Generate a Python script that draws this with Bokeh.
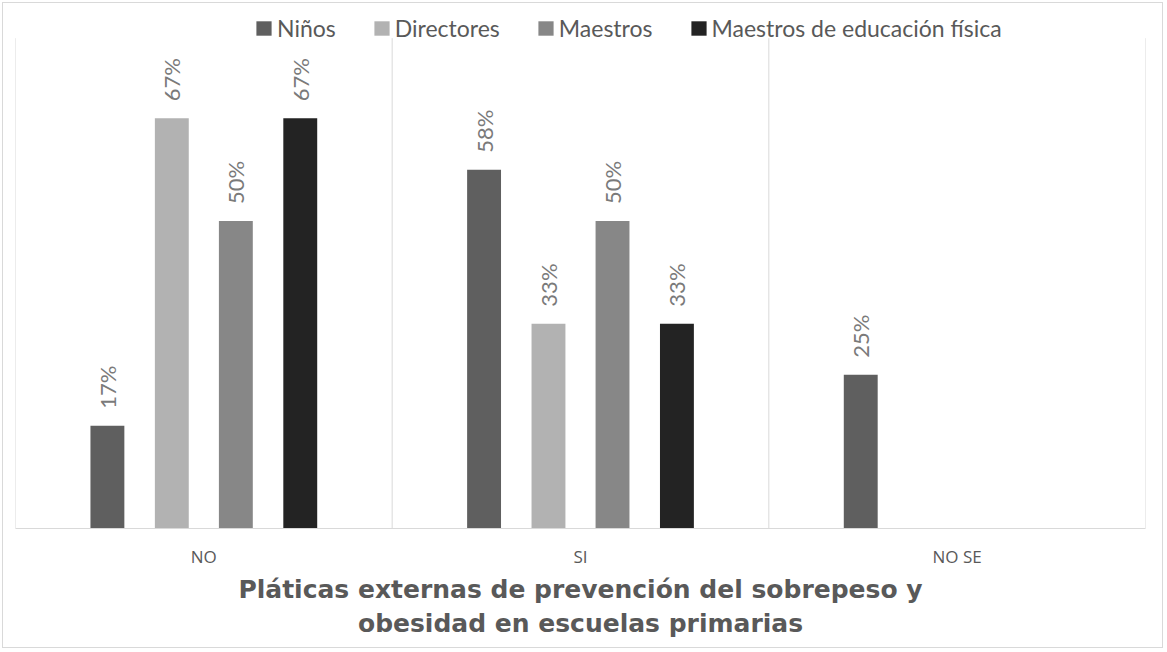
from bokeh.plotting import figure
from bokeh.models import (ColumnDataSource, FactorRange, Legend, LegendItem, Range1d)
from bokeh.transform import dodge
from bokeh.embed import file_html
from bokeh.resources import INLINE
import math

categories = ["NO", "SI", "NO SE"]
series_names = ["Niños", "Directores", "Maestros", "Maestros de educación física"]
ninos = [0.167, 0.583, 0.25]
directores = [0.667, 0.333, 0.0]
maestros = [0.5, 0.5, 0.0]
maestros_ef = [0.667, 0.333, 0.0]
axis_title = "Pláticas externas de prevención del sobrepeso y\nobesidad en escuelas primarias"

series_values = [ninos, directores, maestros, maestros_ef]
colors = ["#5f5f5f", "#b2b2b2", "#878787", "#232323"]
offsets = [-0.256, -0.085, 0.085, 0.256]
y_top = 0.797      # top of the plot area (value axis max)
y_view = 0.842     # extra room above for the legend

p = figure(width=1161, height=646, x_range=FactorRange(*categories, range_padding=0),
           y_range=Range1d(0, y_view), output_backend="svg", toolbar_location=None,
           min_border_left=12, min_border_top=7, min_border_right=19, min_border_bottom=121,
           margin=(2, 0, 0, 2), styles={"border": "1px solid #d9d9d9"})
p.outline_line_color = None
p.xgrid.visible = False
p.ygrid.visible = False
p.yaxis.visible = False

# category separators (left edge, between categories, right edge)
sep_x = [0, 1, 2, 3]
p.segment(x0=sep_x, x1=sep_x, y0=[0] * 4, y1=[y_top] * 4, line_color="#d9d9d9", line_width=1)

items = []
for name, vals, col, off in zip(series_names, series_values, colors, offsets):
    src = ColumnDataSource(dict(cat=categories, val=vals))
    r = p.vbar(x=dodge("cat", off, range=p.x_range), top="val", width=0.09, bottom=0,
               source=src, fill_color=col, line_color=None)
    items.append(LegendItem(label=name, renderers=[r]))
    lab_cats = [c for c, v in zip(categories, vals) if v > 0]
    lab_vals = [v for v in vals if v > 0]
    lab_txt = ["%d%%" % round(v * 100) for v in lab_vals]
    lsrc = ColumnDataSource(dict(cat=lab_cats, val=lab_vals, txt=lab_txt))
    p.text(x=dodge("cat", off, range=p.x_range), y="val", text="txt", source=lsrc,
           angle=math.pi / 2, text_align="left", text_baseline="middle", y_offset=-17,
           text_font={"value": "Lato"}, text_font_size="22px", text_color="#7a7a7a")

legend = Legend(items=items, orientation="horizontal", location=(239, 486),
                glyph_width=19, glyph_height=18, label_standoff=4, spacing=36,
                padding=0, margin=0, border_line_color=None, background_fill_alpha=0,
                label_text_font="Lato", label_text_font_size="23px",
                label_text_color="#595959", label_height=20)
p.add_layout(legend, "center")

ax = p.xaxis[0]
ax.axis_line_color = "#d9d9d9"
ax.major_tick_line_color = None
ax.minor_tick_line_color = None
ax.major_label_standoff = 10
ax.major_label_text_font = "Open Sans"
ax.major_label_text_font_size = "17px"
ax.major_label_text_color = "#595959"
ax.axis_label = axis_title
ax.axis_label_text_font = "DejaVu Sans"
ax.axis_label_text_font_style = "bold"
ax.axis_label_text_font_size = "25px"
ax.axis_label_text_color = "#595959"
ax.axis_label_standoff = 4

open("out.html", "w").write(file_html(p, INLINE))
